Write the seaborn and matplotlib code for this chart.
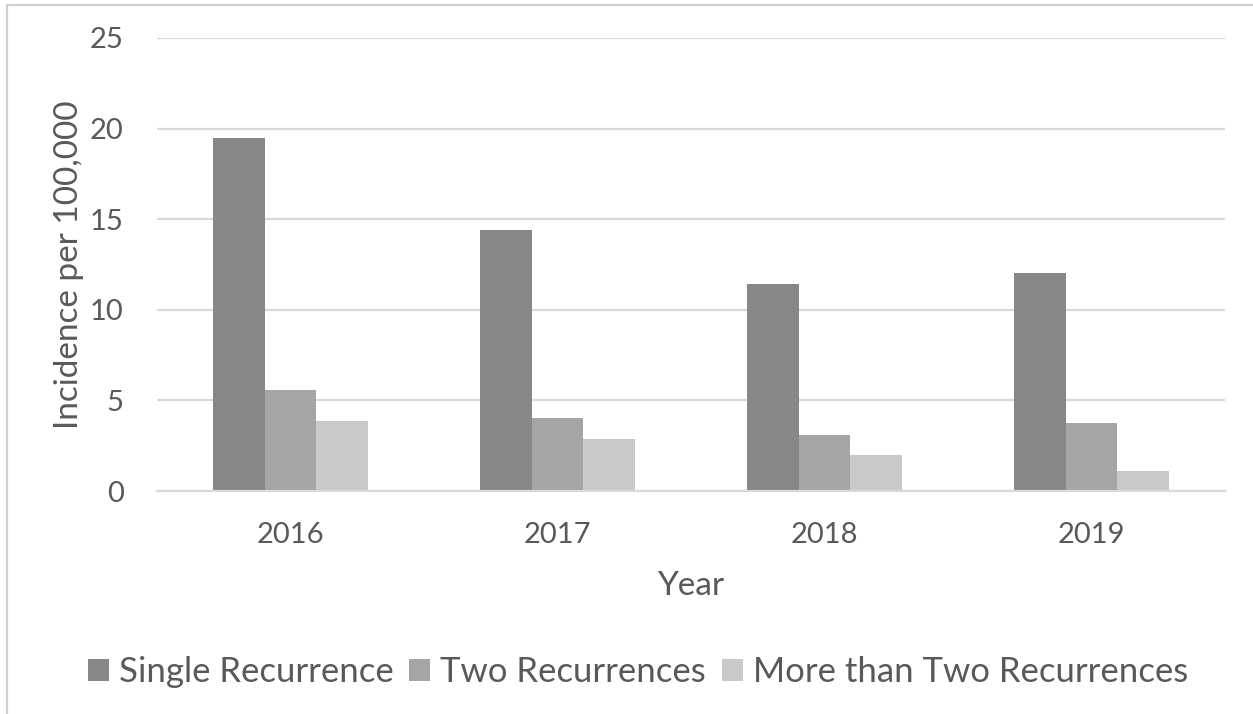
import matplotlib
matplotlib.use("Agg")
import matplotlib.pyplot as plt
from matplotlib.patches import Patch, Rectangle
import seaborn as sns
import pandas as pd

years = ["2016", "2017", "2018", "2019"]
series = ["Single Recurrence", "Two Recurrences", "More than Two Recurrences"]
single = [19.5, 14.4, 11.45, 12.05]
two = [5.57, 4.01, 3.09, 3.73]
more_than_two = [3.86, 2.87, 1.99, 1.12]
y_ticks = [0, 5, 10, 15, 20, 25]

colors = ["#878787", "#a5a5a5", "#c9c9c9"]
text_color = "#595959"
grid_color = "#d9d9d9"

df = pd.DataFrame({
    "Year": years * 3,
    "Series": [s for s in series for _ in years],
    "Value": single + two + more_than_two,
})

sns.set_theme(style="white")
plt.rcParams["font.family"] = ["Lato", "DejaVu Sans"]

fig = plt.figure(figsize=(12.53, 7.14), dpi=100)
ax = fig.add_axes([157 / 1253, 1 - 491 / 714, (1225 - 157) / 1253, (491 - 38) / 714])

sns.barplot(data=df, x="Year", y="Value", hue="Series", order=years,
            hue_order=series, palette=colors, width=0.58, saturation=1,
            linewidth=0, legend=False, ax=ax)

ax.set_ylim(0, 25)
ax.set_yticks(y_ticks)
ax.set_xlim(-0.5, len(years) - 0.5)
ax.yaxis.grid(True, color=grid_color, linewidth=1.6)
ax.set_axisbelow(True)
for side in ["top", "right", "left"]:
    ax.spines[side].set_visible(False)
ax.spines["bottom"].set_color(grid_color)
ax.spines["bottom"].set_linewidth(1.6)

ax.tick_params(axis="y", length=0, pad=24, labelsize=21, labelcolor=text_color)
ax.tick_params(axis="x", length=0, pad=22, labelsize=21, labelcolor=text_color)
ax.set_xlabel("Year", fontsize=24, color=text_color, labelpad=17)
ax.set_ylabel("Incidence per 100,000", fontsize=24, color=text_color, labelpad=4)

# outer chart frame
fig.patches.append(Rectangle((7 / 1253, -0.1), 1.2, 1.1 - 5 / 714,
                             transform=fig.transFigure, fill=False,
                             edgecolor="#d0d0d0", linewidth=1.6))

handles = [Patch(facecolor=c, edgecolor="none") for c in colors]
fig.legend(handles, series, loc="center", bbox_to_anchor=(638 / 1253, 1 - 672 / 714),
           ncol=3, frameon=False, fontsize=25, labelcolor=text_color,
           handlelength=0.6, handleheight=0.6, handletextpad=0.29, columnspacing=0.45,
           borderpad=0, borderaxespad=0)

fig.savefig("out.png", dpi=100)
